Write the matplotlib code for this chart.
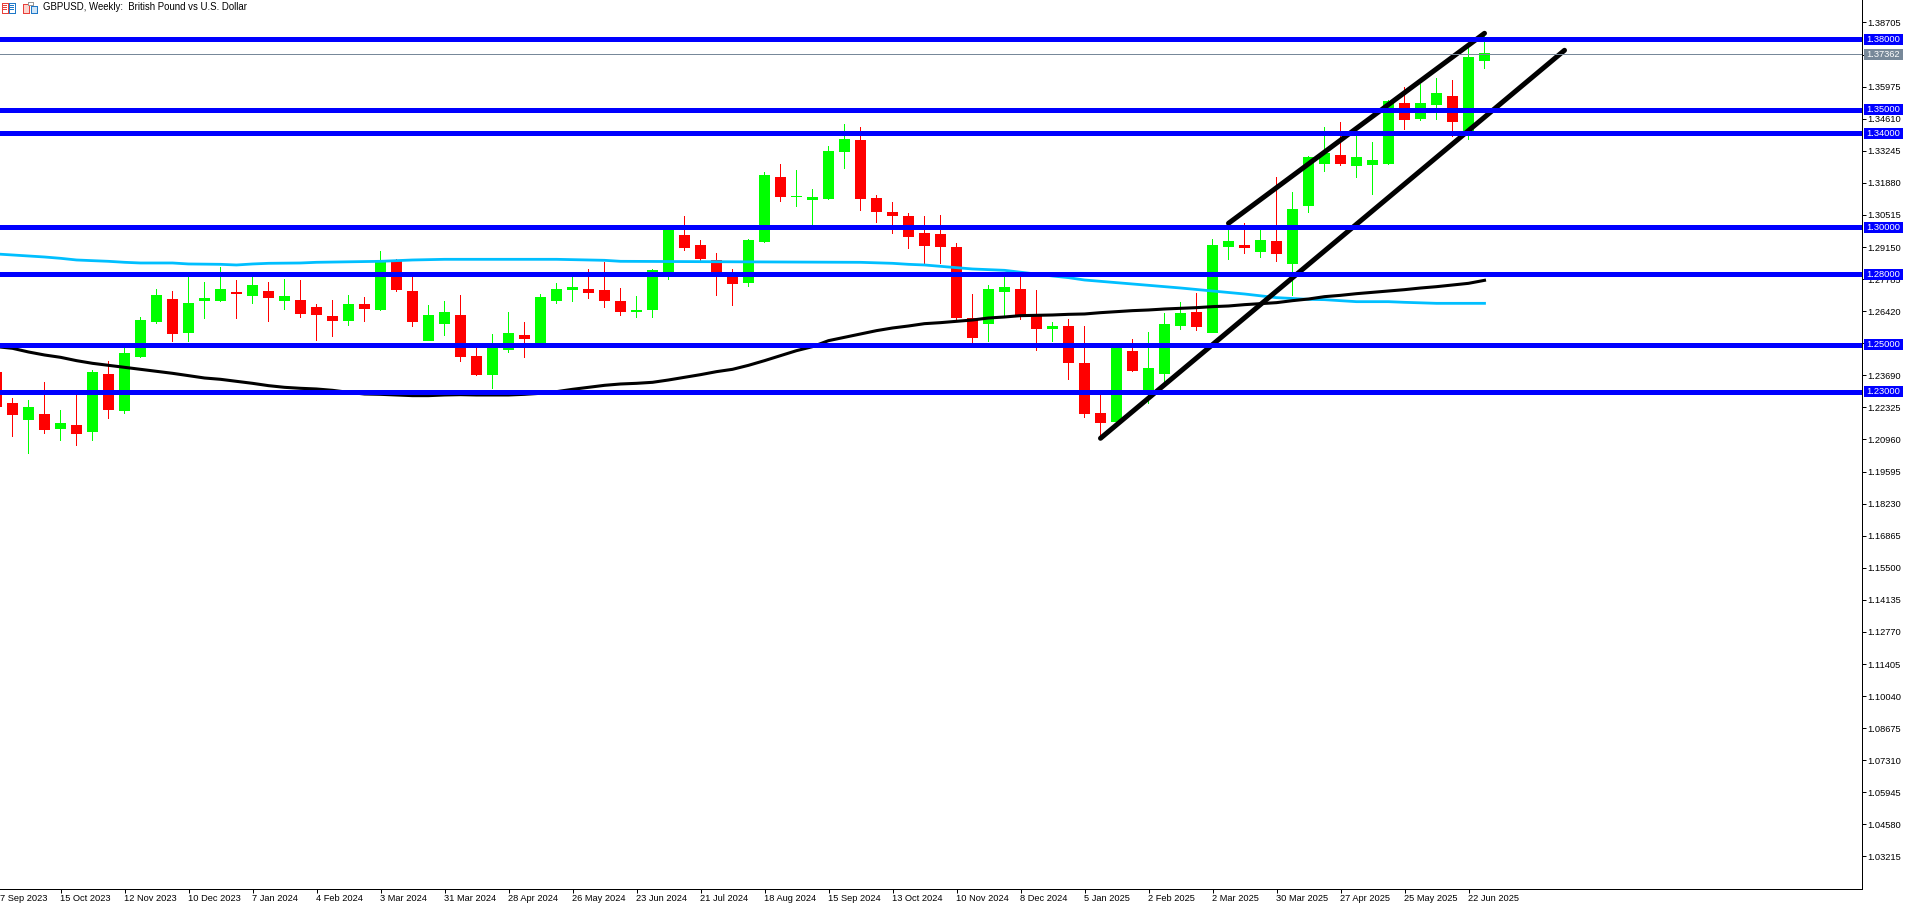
import matplotlib
matplotlib.use("Agg")
from matplotlib import pyplot as plt
from matplotlib.patches import Rectangle
from matplotlib.transforms import blended_transform_factory, IdentityTransform

plt.rcParams['font.family'] = ['Liberation Sans', 'DejaVu Sans']

title = "GBPUSD, Weekly:  British Pound vs U.S. Dollar"

opens = [1.23833, 1.22513, 1.2179, 1.22045, 1.21407, 1.21577, 1.21279, 1.23748, 1.22173, 1.24471,
         1.2596, 1.26939, 1.25492, 1.26854, 1.26854, 1.27237, 1.27067, 1.2728, 1.26854, 1.26897,
         1.26599, 1.26216, 1.26003, 1.26726, 1.26471, 1.28585, 1.2728, 1.25152, 1.25875, 1.26258,
         1.24513, 1.23705, 1.24769, 1.25407, 1.24982, 1.26854, 1.27322, 1.27365, 1.27322, 1.26854,
         1.26386, 1.26471, 1.28031, 1.29663, 1.29237, 1.28599, 1.2806, 1.2762, 1.29365, 1.32131,
         1.3128, 1.31152, 1.31195, 1.33195, 1.33705, 1.31237, 1.30641, 1.30471, 1.29748, 1.29705,
         1.29152, 1.2613, 1.25875, 1.27237, 1.27365, 1.26258, 1.25662, 1.2579, 1.24215, 1.22088,
         1.21705, 1.24726, 1.22854, 1.23747, 1.2579, 1.26386, 1.25492, 1.29152, 1.29237, 1.28939,
         1.29407, 1.28428, 1.30896, 1.32683, 1.33066, 1.32598, 1.32641, 1.32683, 1.35279, 1.34598,
         1.35194, 1.35577, 1.34045, 1.37066]
highs = [1.2400, 1.22726, 1.22641, 1.23407, 1.22216, 1.22996, 1.23918, 1.24301, 1.25053, 1.26173,
         1.27365, 1.2728, 1.28031, 1.27663, 1.28301, 1.27748, 1.27875, 1.27663, 1.2779, 1.27748,
         1.26726, 1.26897, 1.27109, 1.27024, 1.28982, 1.28627, 1.2796, 1.26684, 1.26854, 1.27109,
         1.24897, 1.2545, 1.26386, 1.2596, 1.27152, 1.2762, 1.28031, 1.28216, 1.28514, 1.27407,
         1.27067, 1.28216, 1.29918, 1.30471, 1.2945, 1.28897, 1.28216, 1.29492, 1.32344, 1.32684,
         1.32429, 1.3162, 1.3345, 1.34386, 1.34259, 1.31365, 1.31067, 1.30599, 1.30471, 1.30514,
         1.29322, 1.27152, 1.27535, 1.2796, 1.28031, 1.27322, 1.2596, 1.26088, 1.2579, 1.22925,
         1.24896, 1.25237, 1.25535, 1.26343, 1.26811, 1.27194, 1.29492, 1.30131, 1.30173, 1.29918,
         1.32131, 1.31492, 1.33024, 1.34258, 1.3447, 1.34059, 1.33619, 1.35407, 1.3596, 1.36087,
         1.36343, 1.36258, 1.37619, 1.3815]
lows = [1.2200, 1.21067, 1.20343, 1.21194, 1.20896, 1.20684, 1.20896, 1.21833, 1.22045, 1.24428,
        1.25875, 1.25109, 1.25109, 1.26088, 1.26811, 1.26088, 1.26726, 1.2596, 1.26471, 1.26131,
        1.25152, 1.25322, 1.2579, 1.2596, 1.26428, 1.27237, 1.25748, 1.25152, 1.25365, 1.24258,
        1.23662, 1.23109, 1.24641, 1.24428, 1.24939, 1.26726, 1.26811, 1.26939, 1.26556, 1.26216,
        1.26131, 1.26131, 1.27748, 1.28982, 1.28556, 1.27067, 1.26641, 1.2745, 1.29322, 1.31067,
        1.30854, 1.30088, 1.31152, 1.32471, 1.30684, 1.30173, 1.29705, 1.29067, 1.28429, 1.28428,
        1.26045, 1.24854, 1.25109, 1.26216, 1.26045, 1.24726, 1.25109, 1.23492, 1.21875, 1.20939,
        1.21662, 1.23832, 1.22471, 1.23407, 1.2562, 1.25577, 1.25492, 1.28599, 1.28854, 1.28684,
        1.28513, 1.27067, 1.30598, 1.32343, 1.32598, 1.32087, 1.31364, 1.32641, 1.3413, 1.34513,
        1.34555, 1.33832, 1.33704, 1.36726]
closes = [1.22343, 1.22003, 1.22343, 1.21364, 1.21662, 1.21194, 1.23833, 1.22216, 1.24641, 1.26045,
          1.27109, 1.2545, 1.26769, 1.26982, 1.27365, 1.27152, 1.27535, 1.26982, 1.27067, 1.26301,
          1.26258, 1.26003, 1.26726, 1.26514, 1.28585, 1.27322, 1.2596, 1.26258, 1.26386, 1.24471,
          1.23705, 1.24982, 1.25492, 1.25237, 1.27024, 1.27365, 1.2745, 1.27194, 1.26854, 1.26386,
          1.26471, 1.28173, 1.29875, 1.29109, 1.28641, 1.28102, 1.27577, 1.2945, 1.32216, 1.3128,
          1.31322, 1.3128, 1.33237, 1.33748, 1.31195, 1.30641, 1.30471, 1.29578, 1.29195, 1.29152,
          1.2613, 1.25279, 1.27365, 1.2745, 1.26173, 1.25662, 1.2579, 1.24215, 1.22045, 1.21662,
          1.24854, 1.23875, 1.24003, 1.25875, 1.26343, 1.25747, 1.29237, 1.29407, 1.29109, 1.2945,
          1.28854, 1.30769, 1.32981, 1.33151, 1.32683, 1.32981, 1.32853, 1.35364, 1.34555, 1.35279,
          1.35705, 1.3447, 1.37236, 1.37407]

cyan_idx = [0, 1, 2, 3, 4, 5, 6, 7, 8, 9, 11, 12, 14, 15, 16, 17, 19, 20, 24, 26, 28, 30, 35, 38, 39,
            54, 56, 57, 58, 60, 61, 63, 66, 67, 68, 70, 72, 74, 76, 78, 80, 82, 83, 84, 85, 87, 88, 90, 93]
cyan_ma = [1.28854, 1.28812, 1.28769, 1.28726, 1.2867, 1.28599, 1.2857, 1.28542, 1.285, 1.28471, 1.28471,
           1.28429, 1.28414, 1.28386, 1.28429, 1.28457, 1.28471, 1.285, 1.28542, 1.28599, 1.28627, 1.28627,
           1.28627, 1.28585, 1.28542, 1.28499, 1.28457, 1.28414, 1.28386, 1.28272, 1.28216, 1.28159, 1.27918,
           1.27847, 1.27747, 1.27634, 1.27521, 1.27407, 1.27279, 1.27152, 1.26996, 1.26924, 1.2691, 1.26867,
           1.26825, 1.26825, 1.26797, 1.26754, 1.26754]

black_ma = [1.24911, 1.2484, 1.24684, 1.24556, 1.24457, 1.24315, 1.24201, 1.24116, 1.24031, 1.23946,
            1.23861, 1.23776, 1.23677, 1.23577, 1.23521, 1.23435, 1.2335, 1.23251, 1.2318, 1.23138,
            1.23109, 1.23052, 1.22967, 1.22896, 1.22882, 1.22854, 1.22826, 1.22826, 1.22854, 1.22868,
            1.22854, 1.22854, 1.22854, 1.22882, 1.22925, 1.22996, 1.23095, 1.2318, 1.23265, 1.23322,
            1.2335, 1.23393, 1.23492, 1.23606, 1.23719, 1.23847, 1.23946, 1.24116, 1.24315, 1.24528,
            1.2474, 1.24911, 1.25166, 1.25308, 1.2545, 1.25592, 1.25705, 1.2579, 1.25889, 1.25932,
            1.25989, 1.26045, 1.2613, 1.26173, 1.2623, 1.26244, 1.26258, 1.26286, 1.26301, 1.26357,
            1.264, 1.26443, 1.26471, 1.26513, 1.26542, 1.2657, 1.26613, 1.26641, 1.26698, 1.2674,
            1.26783, 1.26868, 1.26938, 1.27038, 1.27094, 1.27165, 1.27222, 1.27279, 1.27336, 1.27406,
            1.27463, 1.27534, 1.27605, 1.27733]

levels = [1.38, 1.35, 1.34, 1.30, 1.28, 1.25, 1.23]
last_price = 1.37362
upper_channel = ([77, 93], [1.3016, 1.38245])
lower_channel = ([69, 98], [1.21011, 1.37522])

y_ticks = [1.38705, 1.37340, 1.35975, 1.34610, 1.33245, 1.31880, 1.30515, 1.29150, 1.27785, 1.26420,
           1.25055, 1.23690, 1.22325, 1.20960, 1.19595, 1.18230, 1.16865, 1.15500, 1.14135, 1.12770,
           1.11405, 1.10040, 1.08675, 1.07310, 1.05945, 1.04580, 1.03215]
x_ticks = list(range(0, 93, 4))
x_labels = ["7 Sep 2023", "15 Oct 2023", "12 Nov 2023", "10 Dec 2023", "7 Jan 2024", "4 Feb 2024",
            "3 Mar 2024", "31 Mar 2024", "28 Apr 2024", "26 May 2024", "23 Jun 2024", "21 Jul 2024",
            "18 Aug 2024", "15 Sep 2024", "13 Oct 2024", "10 Nov 2024", "8 Dec 2024", "5 Jan 2025",
            "2 Feb 2025", "2 Mar 2025", "30 Mar 2025", "27 Apr 2025", "25 May 2025", "22 Jun 2025"]

GREEN = "#00ff00"
RED = "#ff0000"
BLUE = "#0000ff"
GREY = "#778899"
CYAN = "#00bfff"
FS = 6.7

fig = plt.figure(figsize=(19.05, 9.05), dpi=100)
ax = fig.add_axes([0, 16.5 / 905, 1861.5 / 1905, 888.5 / 905])

# candles, wicks as thin bars because non-antialiased lines land a pixel off
for i in range(len(opens)):
    col = GREEN if closes[i] >= opens[i] else RED
    ax.bar(i, highs[i] - lows[i], bottom=lows[i], width=1 / 16,
           color=col, linewidth=0, antialiased=False, zorder=2)
    ax.bar(i, abs(closes[i] - opens[i]), bottom=min(opens[i], closes[i]), width=11 / 16,
           color=col, linewidth=0, antialiased=False, zorder=3)

# moving averages
ax.plot(cyan_idx, cyan_ma, color=CYAN, linewidth=2.0, zorder=4)
ax.plot(range(len(black_ma)), black_ma, color="black", linewidth=2.2, zorder=4)

# channel
for line in (upper_channel, lower_channel):
    ax.plot(line[0], line[1], color="black", linewidth=3.6, solid_capstyle="round", zorder=5)

# levels go over everything else
ax.axhline(last_price, color=GREY, linewidth=0.72, zorder=6)
for lv in levels:
    ax.axhline(lv, color=BLUE, linewidth=3.6, zorder=7)

for s in ("left", "top"):
    ax.spines[s].set_visible(False)
for s in ("right", "bottom"):
    ax.spines[s].set_linewidth(0.72)

ax.yaxis.tick_right()
ax.set_yticks(y_ticks)
ax.set_yticklabels(["%.5f" % v for v in y_ticks])
ax.tick_params(axis="y", length=3, width=0.72, pad=1, labelsize=FS, labelcolor="black")

ax.set_xticks(x_ticks)
ax.set_xticklabels([""] * len(x_ticks))
ax.tick_params(axis="x", length=3, width=0.72)

# set_xticks widens the view to take in tick 0, so limits come after it
ax.set_xlim(3.5 / 16, 1865 / 16)
ax.set_ylim(1.01853, 1.39662)

trans = blended_transform_factory(ax.transData, ax.transAxes)
for t, lab in zip(x_ticks, x_labels):
    # the first label is cut by the left edge in the original
    xpos = t if t > 0 else 3.5 / 16
    ax.text(xpos, -9.5 / 888.5, lab, transform=trans, ha="left", va="center",
            fontsize=FS, clip_on=False)

# price boxes on the scale
box_trans = blended_transform_factory(ax.transAxes, ax.transData)
box_x = 1 + 2.5 / 1861.5
box_w = 39 / 1861.5
box_h = 11 * (1.39662 - 1.01853) / 888.5


def price_box(price, col):
    ax.add_patch(Rectangle((box_x, price - box_h / 2), box_w, box_h, transform=box_trans,
                           facecolor=col, edgecolor="none", clip_on=False, zorder=9))
    ax.text(1 + 5 / 1861.5, price, "%.5f" % price, transform=box_trans, color="white",
            ha="left", va="center", fontsize=FS, clip_on=False, zorder=10)


price_box(last_price, GREY)
for lv in levels:
    price_box(lv, BLUE)

# header
fig.text(43 / 1905, 1 - 7.5 / 905, title, ha="left", va="center", fontsize=6.9)


def px_rect(x, y, w, h, face, edge="none"):
    fig.add_artist(Rectangle((x, 905 - y - h), w, h, transform=IdentityTransform(), facecolor=face,
                             edgecolor=edge, linewidth=0.72, antialiased=False))


px_rect(1.5, 2.5, 6, 10, "white", "#e8403a")
px_rect(8.5, 2.5, 6, 10, "white", "#1e78c8")
for yy in (5, 7, 9):
    px_rect(3, yy, 4, 1, "#e8403a")
    px_rect(10, yy, 4, 1, "#1e78c8")
px_rect(22.5, 3.5, 6, 9, "#fbd5cf", "#e8403a")
px_rect(30.5, 5.5, 6, 7, "#cfe5f7", "#1e78c8")
px_rect(27.5, 1.5, 5, 3, "white", "#999999")

fig.savefig("out.png", dpi=100)
